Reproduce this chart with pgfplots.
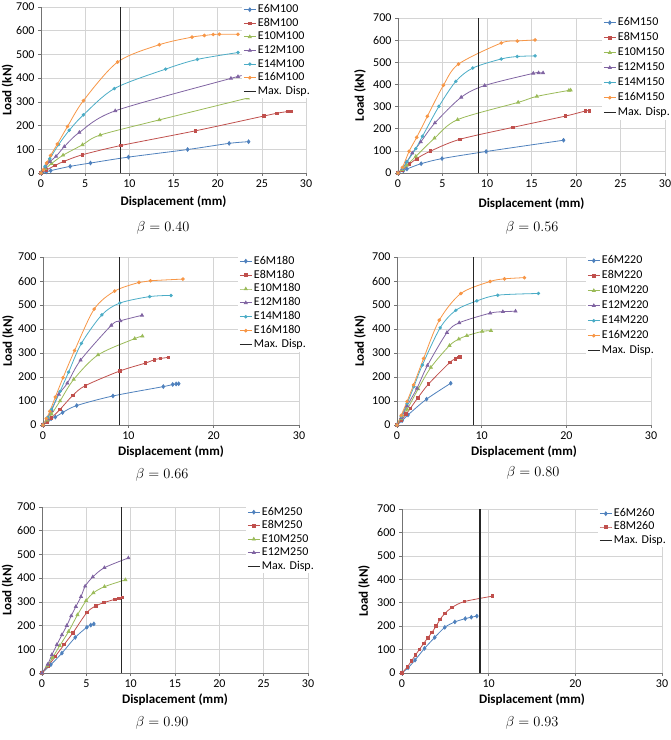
\documentclass[border=0pt]{standalone}
\usepackage{fontspec}
\setmainfont{Carlito}
\usepackage{pgfplots}
\pgfplotsset{compat=1.18}

\definecolor{cE6}{HTML}{4F81BD}
\definecolor{cE8}{HTML}{C0504D}
\definecolor{cE10}{HTML}{9BBB59}
\definecolor{cE12}{HTML}{8064A2}
\definecolor{cE14}{HTML}{4BACC6}
\definecolor{cE16}{HTML}{F79646}

\pgfplotsset{
  panel/.style={
    scale only axis,
    xmin=0, xmax=30, ymin=0, ymax=700,
    ytick={0,100,...,700},
    grid=major,
    major grid style={draw=black!17, line width=0.6pt},
    axis x line*=bottom, axis y line*=left,
    axis line style={draw=black!55, line width=0.7pt, -},
    tick align=outside, major tick length=3pt,
    tick style={draw=black!55, line width=0.6pt},
    ticklabel style={font=\fontsize{12}{14}\selectfont},
    /pgf/number format/assume math mode=true,
    xlabel={Displacement (mm)}, ylabel={Load (kN)},
    label style={font=\bfseries\fontsize{13}{15}\selectfont},
    every axis plot/.append style={smooth, line width=0.8pt, mark options={solid}},
    legend cell align=left,
    legend image code/.code={
      \draw[mark repeat=2, mark phase=2] plot coordinates {(0pt,0pt) (6pt,0pt) (12pt,0pt)};
    },
  },
  lgd/.style n args={3}{
    legend style={
      at={([xshift=#1pt,yshift=#2pt]axis description cs:0,0)},
      anchor=north west, draw=none, fill=white, inner sep=1pt,
      row sep=#3pt, font=\fontsize{12}{14}\selectfont,
      nodes={inner xsep=1.5pt, inner ysep=0pt, text height=9pt, text depth=3pt},
    },
  },
  labs/.style 2 args={
    xlabel style={at={([yshift=-#1pt]axis description cs:0.5,0)}, anchor=center},
    ylabel style={at={([xshift=-#2pt]axis description cs:0,0.5)}, anchor=center},
  },
  s6/.style={color=cE6, mark=diamond*, mark size=1.8pt},
  s8/.style={color=cE8, mark=square*, mark size=1.3pt},
  s10/.style={color=cE10, mark=triangle*, mark size=1.7pt},
  s12/.style={color=cE12, mark=triangle*, mark size=1.7pt},
  s14/.style={color=cE14, mark=*, mark size=1.3pt},
  s16/.style={color=cE16, mark=*, mark size=1.4pt},
  maxdisp/.style={black!85, line width=1.2pt, mark=none, sharp plot},
}

\begin{document}
\begin{tikzpicture}[x=1pt, y=1pt]
\useasboundingbox (0pt,0pt) rectangle (671pt,740pt);

% beta = 0.40
\begin{axis}[panel, at={(41pt,567pt)}, anchor=south west, width=265pt, height=166pt,
  xtick={0,5,...,30}, lgd={201}{170.5}{1.6}, labs={29}{33.5}]
\addplot[s6] coordinates {(0,0)(0.6,5)(1.1,10)(3.3,28)(5.6,42)(9.9,67)(16.6,99)(21.3,125)(23.5,132)};
\addplot[s8] coordinates {(0,0)(0.6,12)(1.6,32)(2.6,49)(4.7,77)(9.05,116)(17.5,178)(25.2,240)(26.7,252)(27.9,259)(28.3,260)};
\addplot[s10] coordinates {(0,0)(0.5,18)(1.2,40)(2.5,75)(4.7,119)(6.7,160)(13.4,224)(23.4,316)};
\addplot[s12] coordinates {(0,0)(0.5,25)(1,48)(1.7,70)(2.64,111)(4.34,171)(8.4,262)(21.5,399)(22.3,406)};
\addplot[s14] coordinates {(0,0)(0.45,28)(1,60)(2,120)(3.2,180)(4.8,245)(8.3,356)(14.1,438)(17.7,479)(22.3,508)};
\addplot[s16] coordinates {(0,0)(0.26,14)(0.64,42)(1.09,74)(1.85,122)(3.0,196)(4.8,305)(8.68,468)(13.4,541)(17.1,573)(18.5,580)(19.5,584)(20.2,585)(22.3,585)};
\addplot[maxdisp] coordinates {(9,0)(9,700)};
\legend{E6M100,E8M100,E10M100,E12M100,E14M100,E16M100,Max. Disp.}
\end{axis}

% beta = 0.56
\begin{axis}[panel, at={(398pt,567pt)}, anchor=south west, width=267pt, height=155pt,
  xtick={0,5,...,30}, lgd={204}{157.5}{3}, labs={31}{38}]
\addplot[s6] coordinates {(0,0)(0.6,10)(1,18)(2.6,42)(4.95,65)(9.9,97)(18.6,148)};
\addplot[s8] coordinates {(0,0)(0.5,12)(1.3,40)(2.1,65)(3.66,99)(6.94,152)(12.9,206)(18.8,257)(21.05,280)(21.5,281)};
\addplot[s10] coordinates {(0,0)(0.5,15)(1,35)(2,75)(4.1,157)(6.7,241)(13.5,319)(15.6,346)(19.2,373)(19.4,374)};
\addplot[s12] coordinates {(0,0)(0.5,20)(1,50)(1.6,90)(2.56,140)(4.15,226)(7.1,342)(9.74,395)(15.2,450)(15.8,452)(16.3,452)};
\addplot[s14] coordinates {(0,0)(0.5,20)(1,50)(2,110)(2.75,166)(4.6,301)(6.5,414)(8.4,474)(11.6,515)(13.4,526)(15.4,529)};
\addplot[s16] coordinates {(0,0)(0.5,25)(1.25,98)(2.1,161)(3.3,256)(5.1,396)(6.8,492)(11.6,587)(13.4,596)(15.4,601)};
\addplot[maxdisp] coordinates {(9,0)(9,700)};
\legend{E6M150,E8M150,E10M150,E12M150,E14M150,E16M150,Max. Disp.}
\end{axis}

% beta = 0.66
\begin{axis}[panel, at={(43pt,315pt)}, anchor=south west, width=256pt, height=168pt,
  xtick={0,10,20,30}, lgd={195}{171}{1.9}, labs={27}{35}]
\addplot[s6] coordinates {(0,0)(0.55,15)(0.94,26)(1.45,33)(2.3,52)(3.95,81)(8.2,121)(14.1,160)(15.2,169)(15.6,171)(15.9,172)};
\addplot[s8] coordinates {(0,0)(0.5,12)(1,30)(2,65)(3.48,123)(4.96,164)(9.0,225)(12,258)(13.05,272)(13.75,277)(14.7,282)};
\addplot[s10] coordinates {(0,0)(0.5,20)(1,45)(2,100)(3.6,190)(6.45,292)(10.75,360)(11.65,370)};
\addplot[s12] coordinates {(0,0)(0.5,25)(1,60)(1.85,128)(2.85,174)(4.4,270)(8.0,415)(9.06,434)(11.6,457)};
\addplot[s14] coordinates {(0,0)(0.5,30)(1,65)(2,140)(3,220)(4.5,340)(6.9,459)(9,508)(12.5,535)(15.0,540)};
\addplot[s16] coordinates {(0,0)(0.4,27)(0.8,57)(1.45,117)(2.35,197)(3.7,310)(6.0,483)(8.4,558)(11.25,594)(12.6,601)(16.4,608)};
\addplot[maxdisp] coordinates {(9,0)(9,700)};
\legend{E6M180,E8M180,E10M180,E12M180,E14M180,E16M180,Max. Disp.}
\end{axis}

% beta = 0.80
\begin{axis}[panel, at={(397pt,315pt)}, anchor=south west, width=254pt, height=168pt,
  xtick={0,10,20,30}, lgd={189}{171.5}{3}, labs={27}{37}]
\addplot[s6] coordinates {(0,0)(0.6,18)(1.3,42)(3.5,108)(6.35,174)};
\addplot[s8] coordinates {(0,0)(0.5,20)(1.06,45)(1.57,69)(2.44,112)(3.73,171)(6.25,261)(6.9,275)(7.25,281)(7.45,284)};
\addplot[s10] coordinates {(0,0)(0.5,25)(1.2,65)(2.5,150)(4,240)(6.2,331)(7.3,358)(8.25,372)(10.06,390)(11.1,393)};
\addplot[s12] coordinates {(0,0)(0.5,30)(1.2,80)(2.36,153)(3.6,248)(5.9,385)(7.35,426)(11.0,466)(12.5,472)(14.0,474)};
\addplot[s14] coordinates {(0,0)(0.5,35)(1.2,90)(2,160)(3,250)(5.1,405)(6.95,478)(9.43,517)(11.9,541)(16.7,548)};
\addplot[s16] coordinates {(0,0)(0.5,40)(1.18,98)(1.96,167)(3.14,277)(5.0,437)(7.54,548)(11.0,598)(12.7,609)(15.05,614)};
\addplot[maxdisp] coordinates {(9,0)(9,700)};
\legend{E6M220,E8M220,E10M220,E12M220,E14M220,E16M220,Max. Disp.}
\end{axis}

% beta = 0.90
\begin{axis}[panel, at={(42pt,67pt)}, anchor=south west, width=266pt, height=166pt,
  xtick={0,5,...,30}, lgd={204}{168}{1.5}, labs={27}{34.5}]
\addplot[s6] coordinates {(0,0)(1,35)(2.25,84)(3.75,150)(5.06,193)(5.5,202)(5.85,207)};
\addplot[s8] coordinates {(0,0)(0.7,30)(1.5,70)(2.5,120)(3.5,170)(5.06,255)(6.07,283)(7,297)(8.25,311)(8.7,315)(9.07,318)};
\addplot[s10] coordinates {(0,0)(0.6,30)(1.2,65)(2,115)(3,175)(4,245)(4.98,305)(5.8,338)(7.05,364)(9.4,393)};
\addplot[s12] coordinates {(0,0)(0.64,36)(1.12,77)(1.69,120)(2.25,161)(2.8,200)(3.3,241)(3.82,280)(4.4,322)(4.87,366)(5.73,405)(7.04,444)(9.74,485)};
\addplot[maxdisp] coordinates {(9,0)(9,700)};
\legend{E6M250,E8M250,E10M250,E12M250,Max. Disp.}
\end{axis}

% beta = 0.93
\begin{axis}[panel, at={(402pt,67pt)}, anchor=south west, width=260pt, height=164pt,
  xtick={0,10,20,30}, lgd={196}{166.5}{1.3}, labs={27}{38}]
\addplot[s6] coordinates {(0,0)(0.7,22)(1.5,55)(2.6,105)(3.78,152)(4.94,195)(6.1,218)(7.3,232)(8.0,238)(8.64,243)};
\addplot[s8] coordinates {(0,0)(0.62,26)(1.08,51)(1.54,76)(2.0,100)(2.5,126)(2.97,150)(3.47,174)(3.93,200)(4.4,229)(4.94,254)(5.78,280)(7.2,305)(10.45,328)};
\addplot[maxdisp] coordinates {(9,0)(9,700)};
\legend{E6M260,E8M260,Max. Disp.}
\end{axis}

% panel captions
\begin{scope}[every node/.style={font=\fontsize{14}{16}\selectfont}]
\node at (163pt,512pt) {$\beta = 0.40$};
\node at (532pt,512pt) {$\beta = 0.56$};
\node at (162pt,265pt) {$\beta = 0.66$};
\node at (533pt,267pt) {$\beta = 0.80$};
\node at (162pt,17pt) {$\beta = 0.90$};
\node at (532pt,17pt) {$\beta = 0.93$};
\end{scope}
\end{tikzpicture}
\end{document}
